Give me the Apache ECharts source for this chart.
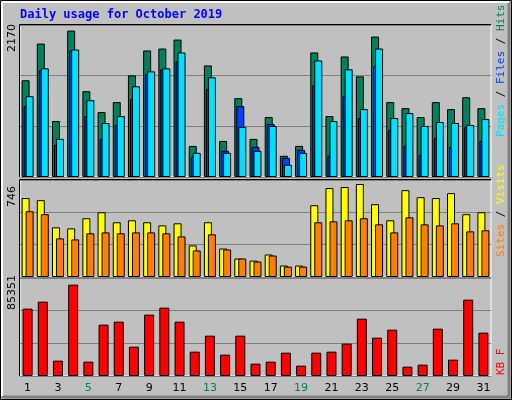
<!DOCTYPE html><html><head><meta charset="utf-8">
<script src="https://cdn.jsdelivr.net/npm/echarts@6/dist/echarts.min.js"></script>
<style>html,body{margin:0;padding:0;background:#c0c0c0}#c{width:512px;height:400px}</style></head><body><div id="c"></div>
<script>
const days = ['1','2','3','4','5','6','7','8','9','10','11','12','13','14','15','16','17','18','19','20','21','22','23','24','25','26','27','28','29','30','31'];
const weekend = ['5','6','12','13','19','20','26','27'];
const hits = [1381,1905,799,2090,1225,927,1069,1451,1806,1834,1962,444,1593,515,1125,544,856,303,444,1778,870,1721,1437,2005,1069,983,856,1069,969,1139,983];
const files = [1012,1522,459,1806,870,544,742,1111,1466,1537,1650,288,1253,374,1012,430,756,274,388,1310,303,1154,842,1579,671,444,317,558,430,714,515];
const pages = [1154,1551,544,1820,1097,771,870,1295,1508,1551,1778,345,1423,345,714,374,728,175,345,1664,799,1537,969,1834,842,913,728,785,771,742,827];
const visits = [607,591,382,374,452,498,421,436,421,397,413,243,421,219,142,126,173,88,88,552,684,692,715,560,436,668,614,607,645,483,498];
const sites = [506,483,297,289,336,343,336,343,343,336,312,204,328,212,142,119,165,80,80,421,428,436,452,405,343,459,405,397,413,351,359];
const kbytes = [58641,64737,13354,79543,12483,44706,47319,25547,53415,59512,47319,21192,35126,18579,35126,10741,12483,20321,9000,20321,21192,28159,49932,33384,40352,8128,9870,41223,14225,66479,37739];
const maxHits = 2170, maxVisits = 746, maxKB = 85351;

const ch = echarts.init(document.getElementById('c'));
const grids = [{left:20,width:471,top:25,height:152},{left:20,width:471,top:180,height:97},{left:20,width:471,top:278,height:98}];
const ya = (i,m)=>({gridIndex:i,type:'value',min:0,max:m,interval:m/3,axisLabel:{show:false},axisLine:{show:false},axisTick:{show:false},splitLine:{lineStyle:{color:'#808080',width:1}}});
const xa = (i,show)=>({gridIndex:i,type:'category',data:days,axisLine:{show:false},axisTick:{show:false},
  axisLabel:{show:show,fontFamily:'DejaVu Sans',fontSize:11,margin:7,color:v=>weekend.includes(v)?'#00805c':'#000'}});
const bs = {borderColor:'#000',borderWidth:1};
const gb = (x,y,w,h)=>({type:'rect',shape:{x,y,width:w,height:h},style:{fill:'none',stroke:'#000',lineWidth:1},z:-1});
ch.setOption({
  animation:false, backgroundColor:'#c0c0c0',
  grid:grids.map(g=>Object.assign({show:true,backgroundColor:'#c0c0c0',borderColor:'#fff',borderWidth:1},g)),
  xAxis:[xa(0,false),xa(1,false),xa(2,true)],
  yAxis:[ya(0,maxHits),ya(1,maxVisits),ya(2,maxKB)],
  series:[
    {type:'bar',xAxisIndex:0,yAxisIndex:0,data:hits,barWidth:8,barGap:'-75%',itemStyle:Object.assign({color:'#00805c'},bs)},
    {type:'bar',xAxisIndex:0,yAxisIndex:0,data:files,barWidth:8,barGap:'-75%',itemStyle:Object.assign({color:'#0040ff'},bs)},
    {type:'bar',xAxisIndex:0,yAxisIndex:0,data:pages,barWidth:8,barGap:'-75%',itemStyle:Object.assign({color:'#00e0ff'},bs)},
    {type:'bar',xAxisIndex:1,yAxisIndex:1,data:visits,barWidth:8,barGap:'-50%',itemStyle:Object.assign({color:'#ffff00'},bs)},
    {type:'bar',xAxisIndex:1,yAxisIndex:1,data:sites,barWidth:8,barGap:'-50%',itemStyle:Object.assign({color:'#ff8000'},bs)},
    {type:'bar',xAxisIndex:2,yAxisIndex:2,data:kbytes,barWidth:10,itemStyle:Object.assign({color:'#ff0000'},bs)}
  ],
  graphic:[
    {type:'rect',shape:{x:0.5,y:0.5,width:511,height:399},style:{fill:'none',stroke:'#000',lineWidth:1},z:-2},
    {type:'polyline',shape:{points:[[2,397],[509,397],[509,2]]},style:{fill:'none',stroke:'#808080',lineWidth:3},z:-2},
    {type:'polyline',shape:{points:[[2,396],[2,2],[509,2]]},style:{fill:'none',stroke:'#fff',lineWidth:2},z:-2},
    {type:'polyline',shape:{points:[[19.5,177],[19.5,24.5],[491,24.5]]},style:{fill:'none',stroke:'#000',lineWidth:1}},
    {type:'polyline',shape:{points:[[19.5,277],[19.5,179.5],[491,179.5]]},style:{fill:'none',stroke:'#000',lineWidth:1}},
    {type:'polyline',shape:{points:[[19.5,376],[19.5,277.5],[491,277.5]]},style:{fill:'none',stroke:'#000',lineWidth:1}},
    {type:'text',x:20,y:9,style:{text:'Daily usage for October 2019',fill:'#0000ff',font:'bold 12px "DejaVu Sans Mono"'}},
    {type:'text',x:7,y:52,rotation:Math.PI/2,style:{text:String(maxHits),fill:'#000',font:'11px "DejaVu Sans"'}},
    {type:'text',x:7,y:207,rotation:Math.PI/2,style:{text:String(maxVisits),fill:'#000',font:'11px "DejaVu Sans"'}},
    {type:'text',x:7,y:310,rotation:Math.PI/2,style:{text:String(maxKB),fill:'#000',font:'11px "DejaVu Sans"'}},
    {type:'text',x:496,y:137,rotation:Math.PI/2,style:{text:'{p|Pages} {s|/} {f|Files} {s|/} {h|Hits}',font:'11px "DejaVu Sans Mono"',rich:{p:{fill:'#00e0ff',font:'11px "DejaVu Sans Mono"'},f:{fill:'#0040ff',font:'11px "DejaVu Sans Mono"'},h:{fill:'#00805c',font:'11px "DejaVu Sans Mono"'},s:{fill:'#000',font:'11px "DejaVu Sans Mono"'}}}},
    {type:'text',x:496,y:257,rotation:Math.PI/2,style:{text:'{a|Sites} {s|/} {b|Visits}',font:'11px "DejaVu Sans Mono"',rich:{a:{fill:'#ff8000',font:'11px "DejaVu Sans Mono"'},b:{fill:'#ffff00',font:'11px "DejaVu Sans Mono"'},s:{fill:'#000',font:'11px "DejaVu Sans Mono"'}}}},
    {type:'text',x:496,y:375,rotation:Math.PI/2,style:{text:'KB F',fill:'#ff0000',font:'11px "DejaVu Sans Mono"'}}
  ]
});
</script></body></html>
